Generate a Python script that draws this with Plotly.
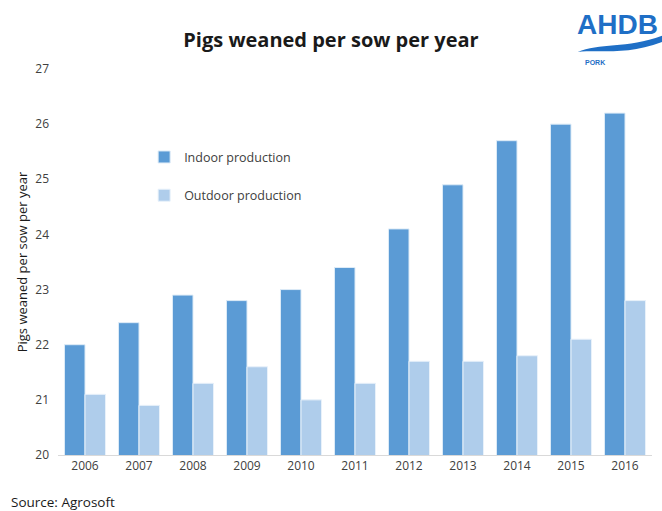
import plotly.graph_objects as go

years = ["2006", "2007", "2008", "2009", "2010", "2011", "2012", "2013", "2014", "2015", "2016"]
indoor = [22.0, 22.4, 22.9, 22.8, 23.0, 23.4, 24.1, 24.9, 25.7, 26.0, 26.2]
outdoor = [21.1, 20.9, 21.3, 21.6, 21.0, 21.3, 21.7, 21.7, 21.8, 22.1, 22.8]

font_fam = "Open Sans, Liberation Sans, sans-serif"
txt = "#404040"
logo = "#1F6FC6"

fig = go.Figure()
fig.add_trace(go.Bar(x=years, y=indoor, name="Indoor production", legendgroup="a",
                     marker=dict(color="#5B9BD5", line=dict(color="#DDEBF7", width=1))))
fig.add_trace(go.Bar(x=years, y=outdoor, name="Outdoor production", legendgroup="b",
                     marker=dict(color="#AFCDEB", line=dict(color="#E8F1FA", width=1))))

fig.update_layout(
    width=662, height=511,
    margin=dict(l=58, r=10, t=69, b=56),
    plot_bgcolor="white", paper_bgcolor="white",
    barmode="group", bargap=0.24, bargroupgap=0,
    font=dict(family=font_fam, color=txt, size=12),
    title=dict(text="<b>Pigs weaned per sow per year</b>", x=0.5, xanchor="center",
               y=0.922, yanchor="middle", font=dict(size=20, color="#1a1a1a", family=font_fam)),
    showlegend=True,
    legend=dict(x=0.145, y=0.81, xanchor="left", yanchor="top", bgcolor="rgba(0,0,0,0)",
                traceorder="grouped", tracegroupgap=19, font=dict(size=12.5, color=txt)),
    xaxis=dict(showline=True, linecolor="#D9D9D9", linewidth=1, ticks="", showgrid=False,
               tickfont=dict(size=12, color=txt)),
    yaxis=dict(range=[20, 27], dtick=1, showgrid=False, zeroline=False, showline=False,
               ticks="", tickfont=dict(size=12, color=txt), ticklabelstandoff=8,
               title=dict(text="Pigs weaned per sow per year", font=dict(size=13, color="#1a1a1a"),
                          standoff=4)),
)

# Logo
fig.add_annotation(xref="paper", yref="paper", x=1.0, y=1.114, xshift=8, xanchor="right", yanchor="middle",
                   text="<b>AHDB</b>", showarrow=False,
                   font=dict(size=28, color=logo, family="Liberation Sans, Arial, sans-serif"))
fig.add_annotation(xref="paper", yref="paper", x=0.884, y=1.018, xanchor="left", yanchor="middle",
                   text="<b>PORK</b>", showarrow=False,
                   font=dict(size=7, color=logo, family="Liberation Sans, Arial, sans-serif"))
fig.add_shape(type="path", xref="paper", yref="paper", layer="above",
              path="M 0.875,1.044 C 0.91,1.068 0.96,1.052 1.02,1.088 L 1.02,1.072 C 0.96,1.035 0.91,1.05 0.875,1.044 Z",
              fillcolor=logo, line=dict(width=0))

fig.add_annotation(xref="paper", yref="paper", x=-0.082, y=0, yshift=-47, xanchor="left", yanchor="middle",
                   text="Source: Agrosoft", showarrow=False,
                   font=dict(size=13.5, color="#1a1a1a"))

fig.write_html("out.html")
